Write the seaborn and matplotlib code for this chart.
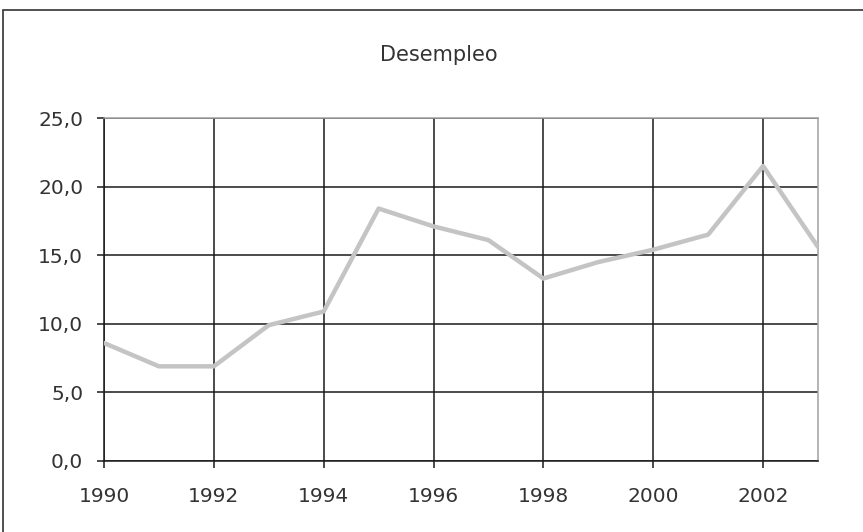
import numpy as np
import pandas as pd
import matplotlib
matplotlib.use("Agg")
import matplotlib.pyplot as plt
import matplotlib.ticker as mticker
from matplotlib.patches import Rectangle
import seaborn as sns

# Unemployment series
years = [1990, 1991, 1992, 1993, 1994, 1995, 1996, 1997, 1998, 1999, 2000, 2001, 2002, 2003]
desempleo = [8.6, 6.9, 6.9, 9.9, 10.9, 18.4, 17.1, 16.1, 13.3, 14.5, 15.4, 16.5, 21.5, 15.6]

x_ticks = [1990, 1992, 1994, 1996, 1998, 2000, 2002]
y_ticks = [0, 5, 10, 15, 20, 25]

sns.set_style("white")
plt.rcParams['font.family'] = ['DejaVu Sans']

df = pd.DataFrame({'year': years, 'value': desempleo})

fig = plt.figure(figsize=(8.63, 5.32), dpi=100)
ax = fig.add_axes([104 / 863, 71 / 532, 714 / 863, 343 / 532])

# grid first so the series sits on top
for xt in x_ticks:
    ax.axvline(xt, color='#1a1a1a', lw=1.1, zorder=1)
for yt in y_ticks:
    ax.axhline(yt, color='#1a1a1a', lw=1.1, zorder=1)

sns.lineplot(data=df, x='year', y='value', ax=ax, color='#c4c4c4', lw=3.2, zorder=3)

ax.set_xlim(1990, 2003)
ax.set_ylim(0, 25)
ax.set_xticks(x_ticks)
ax.set_yticks(y_ticks)
ax.yaxis.set_major_formatter(mticker.FuncFormatter(lambda v, p: f"{v:.1f}".replace('.', ',')))
ax.set_xlabel('')
ax.set_ylabel('')
ax.tick_params(axis='both', direction='out', length=5, width=1.1, color='#1a1a1a',
               labelsize=14.5, labelcolor='#333333', left=True, bottom=True)
ax.tick_params(axis='y', pad=10)
ax.tick_params(axis='x', pad=13.5)

ax.spines['left'].set_color('#1a1a1a')
ax.spines['bottom'].set_color('#1a1a1a')
ax.spines['top'].set_color('#a0a0a0')
ax.spines['right'].set_color('#a0a0a0')
for s in ax.spines.values():
    s.set_linewidth(1.1)

fig.text(439 / 863, 1 - 61 / 532, 'Desempleo', ha='center', va='baseline',
         fontsize=15, color='#333333')

# outer chart frame (runs off the right and bottom edges)
fig.patches.append(Rectangle((3 / 863, -0.2), 1.2, 1.2 - 10 / 532, transform=fig.transFigure,
                             fill=False, edgecolor='#333333', lw=1.2))

fig.savefig('out.png', dpi=100)
